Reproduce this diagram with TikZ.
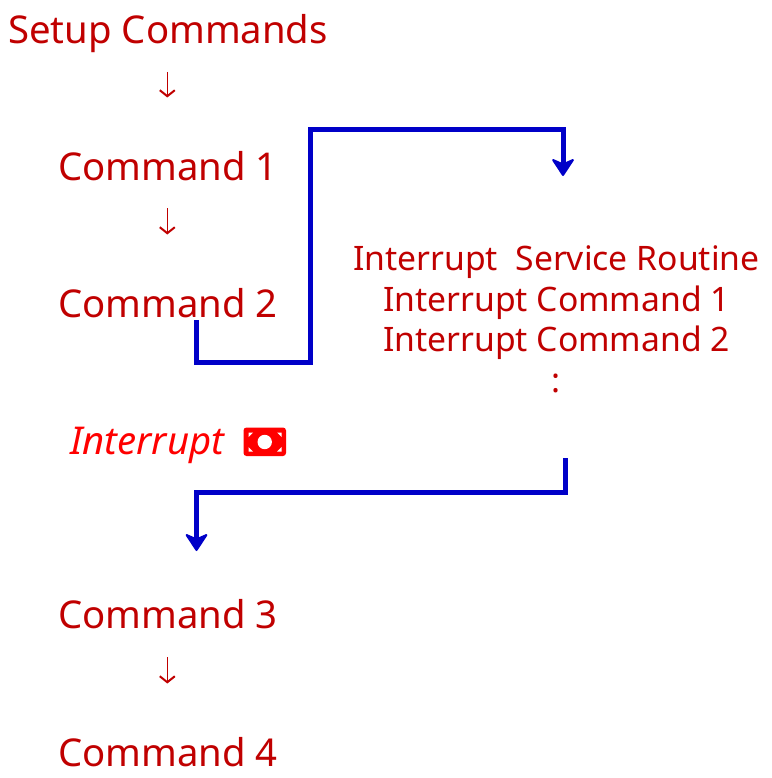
\documentclass[tikz,border=0pt]{standalone}
\usepackage{fontspec}
\setmainfont{Noto Sans}
\usetikzlibrary{arrows.meta}
\definecolor{txtred}{HTML}{C00000}
\definecolor{wirblue}{HTML}{0000C8}
\definecolor{intred}{HTML}{FF0000}
\tikzset{
  cmd/.style={text=txtred,font=\fontsize{38.3}{42}\selectfont,inner sep=0pt,anchor=base west},
  isr/.style={text=txtred,font=\fontsize{33.7}{40}\selectfont,inner sep=0pt,anchor=base west},
  seq/.style={draw=txtred,line width=1.6pt,-{Straight Barb[length=6pt,width=15pt,line width=2pt]}},
  jump/.style={draw=wirblue,line width=5pt,miter limit=10,-{Stealth[length=19pt,width=25pt,inset=5.5pt,line width=2pt,round]}}
}
\begin{document}
\begin{tikzpicture}[x=1pt,y=-1pt]
\useasboundingbox (0,0) rectangle (771,778);
\node[cmd] (setup) at (8,43.7) {Setup Commands};
\node[cmd] (c1) at (58,180.7) {Command 1};
\node[cmd] (c2) at (58,317.2) {Command 2};
\node[cmd] (c3) at (58,628.2) {Command 3};
\node[cmd] (c4) at (58,766.2) {Command 4};
\node[isr] (r0) at (352.8,270) {Interrupt\ \ Service Routine};
\node[isr] (r1) at (382.8,311) {Interrupt Command 1};
\node[isr] (r2) at (382.8,351) {Interrupt Command 2};
\node[isr] (r3) at (551.3,392) {:};
\node[cmd,text=intred,font=\fontsize{38.3}{42}\selectfont\itshape] (irq) at (70,454.5) {Interrupt};
% bill icon
\fill[intred,rounded corners=3pt] (243.5,427.5) rectangle (286,456);
\fill[white] (264.7,442) circle (7.2);
\fill[white] (248.5,432.5) -- (253,432.5) -- (248.5,437) -- cycle;
\fill[white] (281.5,432.5) -- (277,432.5) -- (281.5,437) -- cycle;
\fill[white] (248.5,451.5) -- (253,451.5) -- (248.5,447) -- cycle;
\fill[white] (281.5,451.5) -- (277,451.5) -- (281.5,447) -- cycle;
% thin arrows
\coordinate (a1s) at (167.3,72); \coordinate (a1e) at (167.3,97.5);
\coordinate (a2s) at (167.3,208); \coordinate (a2e) at (167.3,234.5);
\coordinate (a3s) at (167.3,657); \coordinate (a3e) at (167.3,683.5);
\draw[seq] (a1s) -- (a1e);
\draw[seq] (a2s) -- (a2e);
\draw[seq] (a3s) -- (a3e);
% jumps
\coordinate (j1) at (196.5,320);
\coordinate (j2) at (563,176);
\coordinate (j1b) at (310.5,362.5);
\coordinate (j1c) at (563,129.5);
\draw[jump] (j1) |- (j1b) |- (j1c) -- (j2);
\coordinate (j3) at (565,458);
\coordinate (j4) at (196.5,551);
\coordinate (j3b) at (196.5,492);
\draw[jump] (j3) |- (j3b) -- (j4);
\end{tikzpicture}
\end{document}
